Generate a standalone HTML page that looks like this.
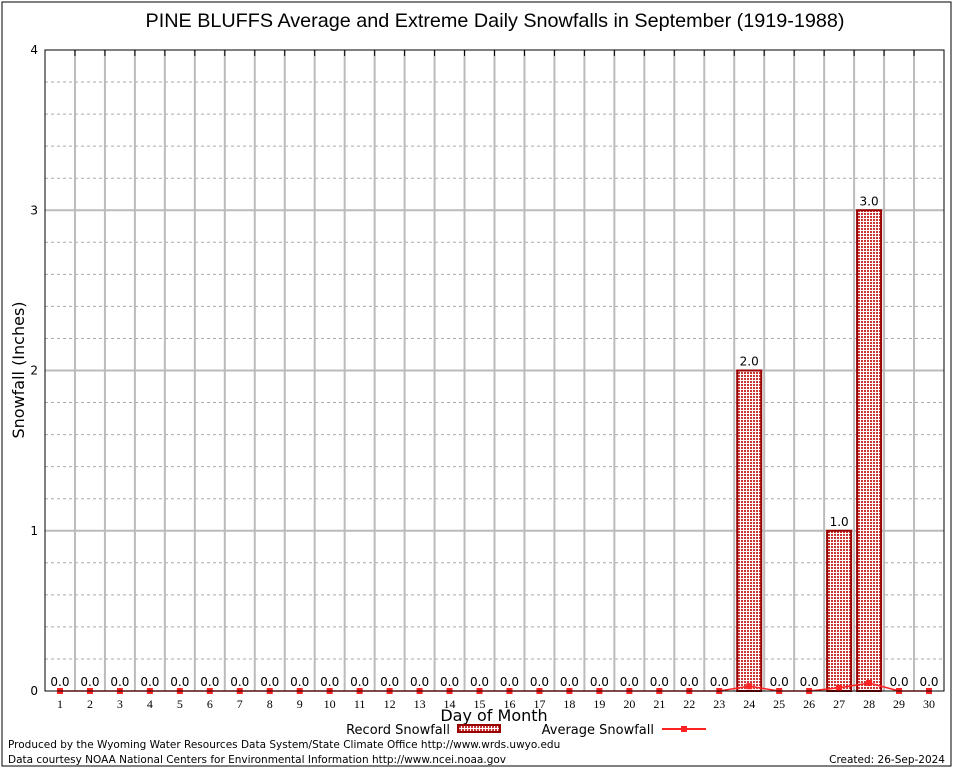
<!DOCTYPE html>
<html><head><meta charset="utf-8"><style>
body{margin:0;background:#fff;}
svg{display:block;font-family:"DejaVu Sans","Liberation Sans",sans-serif;}
</style></head><body>
<svg id="c" width="954" height="768" viewBox="0 0 954 768">
<defs>
<pattern id="pat" width="3" height="3" patternUnits="userSpaceOnUse">
<rect width="3" height="3" fill="#fff"/><rect width="2" height="2" fill="#c33"/>
</pattern>
</defs>
<rect x="2" y="2" width="949" height="764" fill="#fff" stroke="#000" stroke-width="1"/>
<text x="495" y="27" font-size="19.8" text-anchor="middle" font-family="Liberation Sans, sans-serif">PINE BLUFFS Average and Extreme Daily Snowfalls in September (1919-1988)</text>
<g id="grid"></g>
<g id="bars"></g>
<g id="avg"></g>
<rect x="45" y="50" width="899" height="641" fill="none" stroke="#000" stroke-width="1"/>
<text transform="translate(24,370) rotate(-90)" font-size="16" text-anchor="middle">Snowfall (Inches)</text>
<text x="494" y="721" font-size="16" text-anchor="middle">Day of Month</text>
<g>
<text x="450" y="734" font-size="13" text-anchor="end">Record Snowfall</text>
<rect x="458" y="725" width="42" height="7" fill="url(#pat)" stroke="#900" stroke-width="2"/>
<text x="654" y="734" font-size="13" text-anchor="end">Average Snowfall</text>
<line x1="662" y1="729" x2="706" y2="729" stroke="#f22" stroke-width="2"/>
<rect x="681" y="726" width="6" height="6" fill="#f22"/>
</g>
<text x="8" y="748" font-size="10.5">Produced by the Wyoming Water Resources Data System/State Climate Office http://www.wrds.uwyo.edu</text>
<text x="8" y="763" font-size="10.5">Data courtesy NOAA National Centers for Environmental Information http://www.ncei.noaa.gov</text>
<text x="945" y="763" font-size="10.5" text-anchor="end">Created: 26-Sep-2024</text>
</svg>
<script>
const days = Array.from({length:30},(_, i)=>i+1);
const recordSnow = [0,0,0,0,0,0,0,0,0,0,0,0,0,0,0,0,0,0,0,0,0,0,0,2.0,0,0,1.0,3.0,0,0];
const avgSnow = [0,0,0,0,0,0,0,0,0,0,0,0,0,0,0,0,0,0,0,0,0,0,0,0.03,0,0,0.02,0.05,0,0];
const yTicks = [0,1,2,3,4];

const NS="http://www.w3.org/2000/svg";
const X0=45,X1=944,Y0=691,Y1=50,YMAX=4;
const xs=d=>X0+(d-0.5)*(X1-X0)/30;
const ys=v=>Y0-v*(Y0-Y1)/YMAX;
function mk(tag,attrs,parent,txt){const e=document.createElementNS(NS,tag);for(const k in attrs)e.setAttribute(k,attrs[k]);if(txt!==undefined)e.textContent=txt;parent.appendChild(e);return e;}
const grid=document.getElementById('grid'),bars=document.getElementById('bars'),avg=document.getElementById('avg');
for(let v=0.2;v<YMAX;v+=0.2){
  if(Math.abs(v-Math.round(v))<0.01)continue;
  const l=mk('line',{x1:X0,x2:X1,y1:ys(v),y2:ys(v),stroke:'#aaa','stroke-dasharray':'3,3','stroke-width':1},grid);
  
  
}
for(let d=1;d<30;d++){
  const x=xs(d)+(X1-X0)/60;
  const l=mk('line',{x1:x,x2:x,y1:Y1,y2:Y0,stroke:'#bbb','stroke-width':2},grid);
  
  
  const t=mk('line',{x1:x,x2:x,y1:Y1,y2:Y1+6,stroke:'#000','stroke-width':1},grid);
  
  
}
yTicks.forEach(v=>{
  if(v>0&&v<YMAX){
    const l=mk('line',{x1:X0,x2:X1,y1:ys(v),y2:ys(v),stroke:'#bbb','stroke-width':2},grid);
    
    
  }
  const t=mk('text',{x:38,y:ys(v)+4,'font-size':12,'text-anchor':'end'},grid,String(v));
  
  
});
days.forEach((d,i)=>{
  const t=mk('text',{x:xs(d),y:708,'font-size':12,'text-anchor':'middle','font-family':'Liberation Serif, serif'},grid,String(d));
  
  
  const v=recordSnow[i];
  if(v>0){
    const r=mk('rect',{x:xs(d)-12,y:ys(v),width:24,height:Y0-ys(v),fill:'url(#pat)',stroke:'#900','stroke-width':2},bars);
    
    
  }
  const lb=mk('text',{x:xs(d),y:ys(v)-5,'font-size':12,'text-anchor':'middle'},bars,v.toFixed(1));
  
  
});
const pts=days.map((d,i)=>xs(d)+','+ys(avgSnow[i])).join(' ');
const pl=mk('polyline',{points:pts,fill:'none',stroke:'#f22','stroke-width':1.5},avg);


days.forEach((d,i)=>{
  const m=mk('rect',{x:xs(d)-3,y:ys(avgSnow[i])-3,width:6,height:6,fill:'#f22'},avg);
  
  
});
</script>
</body></html>
